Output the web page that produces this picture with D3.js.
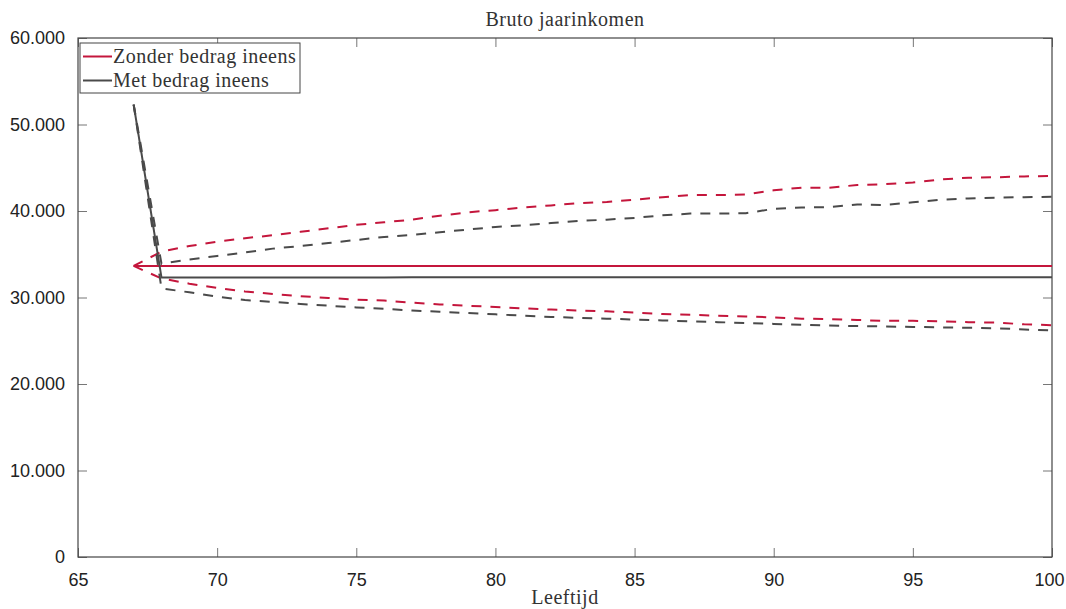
<!DOCTYPE html>
<html>
<head>
<meta charset="utf-8">
<script src="https://cdn.jsdelivr.net/npm/d3@7"></script>
<style>
  body { margin: 0; background: #fff; }
  #chart { width: 1066px; height: 609px; }
  .tick text { font-family: "Liberation Sans", Arial, sans-serif; font-size: 18px; fill: #222; }
  .serif { font-family: "Liberation Serif", "DejaVu Serif", serif; font-size: 20px; letter-spacing: 0.5px; fill: #333; }
</style>
</head>
<body>
<div id="chart"></div>
<script>
// leeftijden 67..100
var ages = [67, 68, 69, 70, 71, 72, 73, 74, 75, 76, 77, 78, 79, 80, 81, 82, 83, 84, 85, 86, 87, 88, 89, 90, 91, 92, 93, 94, 95, 96, 97, 98, 99, 100];

// Zonder bedrag ineens (rood)
var zonderMid = [33650, 33650, 33650, 33650, 33650, 33650, 33650, 33650, 33650, 33650, 33650, 33650, 33650, 33650, 33650, 33650, 33650, 33650, 33650, 33650, 33650, 33650, 33650, 33650, 33650, 33650, 33650, 33650, 33640, 33640, 33640, 33640, 33630, 33630];
var zonderHoog = [33650, 35300, 35950, 36450, 36850, 37200, 37600, 38000, 38400, 38700, 39000, 39450, 39850, 40100, 40400, 40650, 40900, 41050, 41300, 41600, 41850, 41850, 41900, 42400, 42700, 42700, 43000, 43100, 43300, 43650, 43850, 43900, 44000, 44050];
var zonderLaag = [33650, 32200, 31600, 31100, 30700, 30400, 30150, 29950, 29750, 29650, 29400, 29200, 29050, 28900, 28750, 28600, 28500, 28400, 28250, 28100, 28000, 27900, 27800, 27700, 27550, 27500, 27400, 27300, 27300, 27250, 27150, 27100, 26900, 26800];

// Met bedrag ineens (grijs)
var metMid = [52300, 32300, 32300, 32300, 32300, 32300, 32320, 32320, 32320, 32320, 32330, 32330, 32330, 32330, 32330, 32330, 32330, 32330, 32330, 32330, 32330, 32330, 32330, 32330, 32330, 32330, 32330, 32330, 32330, 32330, 32330, 32330, 32330, 32330];
var metHoog = [52300, 33900, 34400, 34800, 35200, 35650, 35950, 36300, 36650, 37000, 37250, 37550, 37850, 38150, 38350, 38600, 38850, 39000, 39200, 39500, 39700, 39700, 39750, 40250, 40400, 40450, 40750, 40700, 41000, 41300, 41450, 41550, 41600, 41650];
var metLaag = [52300, 31050, 30600, 30100, 29700, 29500, 29250, 29050, 28850, 28700, 28500, 28350, 28200, 28050, 27900, 27750, 27650, 27550, 27450, 27350, 27250, 27150, 27050, 26950, 26850, 26750, 26700, 26650, 26600, 26550, 26500, 26450, 26300, 26200];

var xTicks = [65, 70, 75, 80, 85, 90, 95, 100];
var yTicks = [0, 10000, 20000, 30000, 40000, 50000, 60000];

var red = "#c4163c";
var grey = "#4a4a4a";

var width = 1066, height = 609;
var margin = { top: 38, right: 14, bottom: 52, left: 78 };
var innerW = width - margin.left - margin.right;
var innerH = height - margin.top - margin.bottom;

var nl = d3.formatLocale({ decimal: ",", thousands: ".", grouping: [3], currency: ["€", ""] });
var fmt = nl.format(",");

var svg = d3.select("#chart").append("svg")
  .attr("width", width)
  .attr("height", height);

var g = svg.append("g")
  .attr("transform", "translate(" + margin.left + "," + margin.top + ")");

var x = d3.scaleLinear().domain([65, 100]).range([0, innerW]);
var y = d3.scaleLinear().domain([0, 60000]).range([innerH, 0]);

// assen, ticks naar binnen zoals matlab
function styleAxis(sel) {
  sel.select(".domain").remove();
  sel.selectAll(".tick line").attr("stroke", "#777").attr("stroke-width", 1);
}

var xAxis = g.append("g")
  .attr("transform", "translate(0," + innerH + ")")
  .call(d3.axisBottom(x).tickValues(xTicks).tickSize(-9).tickPadding(16).tickFormat(d3.format("d")))
  .call(styleAxis);

// "100" net binnen de rand houden
xAxis.selectAll(".tick text")
  .filter(function (d) { return d === 100; })
  .attr("dx", -3);

g.append("g")
  .call(d3.axisTop(x).tickValues(xTicks).tickSize(-9).tickFormat(""))
  .call(styleAxis);

g.append("g")
  .call(d3.axisLeft(y).tickValues(yTicks).tickSize(-9).tickPadding(13).tickFormat(fmt))
  .call(styleAxis);

g.append("g")
  .attr("transform", "translate(" + innerW + ",0)")
  .call(d3.axisRight(y).tickValues(yTicks).tickSize(-9).tickFormat(""))
  .call(styleAxis);

g.append("rect")
  .attr("width", innerW)
  .attr("height", innerH)
  .attr("fill", "none")
  .attr("stroke", "#444")
  .attr("stroke-width", 1.2);

var line = d3.line()
  .x(function (d, i) { return x(ages[i]); })
  .y(function (d) { return y(d); });

var series = [
  { values: zonderHoog, color: red, dash: "10,9" },
  { values: zonderLaag, color: red, dash: "10,9" },
  { values: zonderMid, color: red, dash: null },
  { values: metHoog, color: grey, dash: "10,9" },
  { values: metLaag, color: grey, dash: "10,9" },
  { values: metMid, color: grey, dash: null }
];

g.selectAll(".serie")
  .data(series)
  .enter().append("path")
  .attr("class", "serie")
  .attr("d", function (d) { return line(d.values); })
  .attr("fill", "none")
  .attr("stroke", function (d) { return d.color; })
  .attr("stroke-width", 2)
  .attr("stroke-dasharray", function (d) { return d.dash; });

// titel en as-label
svg.append("text")
  .attr("class", "serif")
  .attr("x", margin.left + innerW / 2)
  .attr("y", 26)
  .attr("text-anchor", "middle")
  .text("Bruto jaarinkomen");

svg.append("text")
  .attr("class", "serif")
  .attr("x", margin.left + innerW / 2)
  .attr("y", 604)
  .attr("text-anchor", "middle")
  .text("Leeftijd");

// legenda
var legendItems = [
  { label: "Zonder bedrag ineens", color: red },
  { label: "Met bedrag ineens", color: grey }
];

var legend = svg.append("g")
  .attr("transform", "translate(80,43)");

legend.append("rect")
  .attr("width", 220)
  .attr("height", 50)
  .attr("fill", "#fff")
  .attr("stroke", "#444")
  .attr("stroke-width", 1);

var item = legend.selectAll(".item")
  .data(legendItems)
  .enter().append("g")
  .attr("class", "item")
  .attr("transform", function (d, i) { return "translate(0," + (13.5 + i * 24) + ")"; });

item.append("line")
  .attr("x1", 3).attr("x2", 32)
  .attr("stroke", function (d) { return d.color; })
  .attr("stroke-width", 2);

item.append("text")
  .attr("class", "serif")
  .attr("x", 33)
  .attr("y", 6)
  .text(function (d) { return d.label; });
</script>
</body>
</html>
